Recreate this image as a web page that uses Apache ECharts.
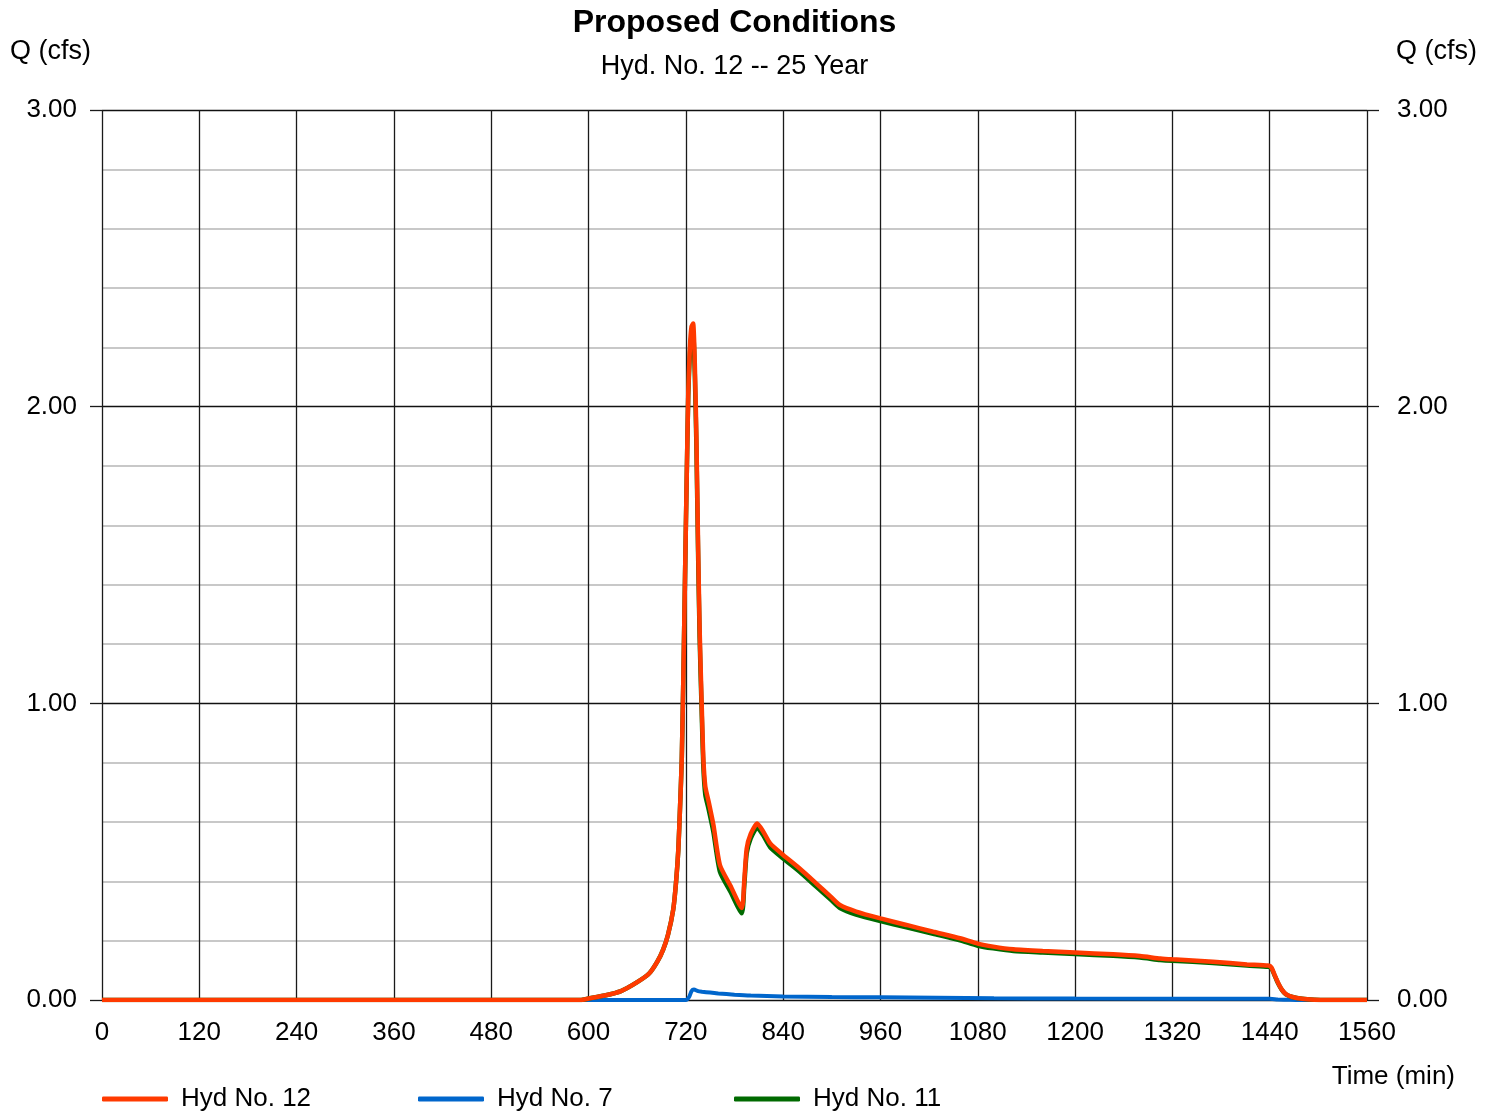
<!DOCTYPE html>
<html>
<head>
<meta charset="utf-8">
<script src="https://cdn.jsdelivr.net/npm/echarts@6/dist/echarts.min.js"></script>
<style>
html,body{margin:0;padding:0;background:#fff;}
#chart{width:1496px;height:1112px;}
</style>
</head>
<body>
<div id="chart"></div>
<script>
// Time (min) / flow (cfs) samples
const xTicks = [0,120,240,360,480,600,720,840,960,1080,1200,1320,1440,1560];
const yTicks = [0,1,2,3];

const hyd12 = [
  [0,0],[590,0],[600,0.005],[620,0.015],[640,0.03],[660,0.06],[675,0.09],[685,0.13],[692,0.17],
  [698,0.22],[704.5,0.306],[708,0.40],[710.7,0.506],[713,0.66],[715,0.815],[717,1.10],[719,1.43],
  [721,1.75],[723,2.05],[725,2.20],[727,2.27],[729,2.28],[731,2.15],[733,1.90],[735,1.55],[737,1.25],
  [739.5,1.0],[741.5,0.82],[744,0.72],[748,0.67],[754,0.59],[762,0.455],[775,0.385],[789,0.31],
  [792,0.40],[795,0.51],[800,0.56],[808,0.595],[815,0.57],[824,0.528],[840,0.489],[860,0.444],
  [880,0.395],[900,0.345],[910,0.32],[930,0.298],[960,0.275],[992,0.253],[1025,0.23],[1058,0.208],
  [1080,0.19],[1099,0.18],[1124,0.171],[1160,0.165],[1200,0.16],[1247,0.154],[1280,0.148],
  [1305,0.14],[1320,0.137],[1370,0.129],[1412,0.12],[1438,0.116],[1442,0.11],[1446,0.085],
  [1450,0.06],[1455,0.035],[1460,0.02],[1468,0.01],[1480,0.004],[1495,0.001],[1510,0],[1560,0]
];

const hyd7 = [
  [0,0],[720,0],[724,0.01],[727,0.03],[730,0.035],[735,0.03],[740,0.028],[750,0.025],[760,0.022],
  [780,0.018],[800,0.015],[840,0.012],[900,0.01],[960,0.009],[1100,0.006],[1200,0.005],[1440,0.004],
  [1450,0.002],[1465,0.0005],[1480,0],[1560,0]
];

const hyd11 = [
  [0,0],[590,0],[600,0.005],[620,0.015],[640,0.03],[660,0.06],[675,0.09],[685,0.13],[692,0.17],
  [698,0.22],[704.5,0.306],[708,0.40],[710.7,0.506],[713,0.66],[715,0.815],[717,1.10],[719,1.43],
  [721,1.75],[723,2.04],[725,2.18],[727,2.24],[729,2.245],[731,2.115],[733,1.868],[735,1.52],[737,1.221],
  [739.5,0.972],[741.5,0.792],[744,0.692],[748,0.644],[754,0.566],[762,0.433],[775,0.365],[789,0.292],
  [792,0.383],[795,0.494],[800,0.545],[808,0.581],[815,0.557],[824,0.515],[840,0.477],[860,0.433],
  [880,0.384],[900,0.335],[910,0.31],[930,0.288],[960,0.266],[992,0.245],[1025,0.223],[1058,0.201],
  [1080,0.183],[1099,0.174],[1124,0.165],[1160,0.16],[1200,0.155],[1247,0.149],[1280,0.143],
  [1305,0.135],[1320,0.132],[1370,0.125],[1412,0.116],[1438,0.112],[1442,0.107],[1446,0.083],
  [1450,0.058],[1455,0.034],[1460,0.019],[1468,0.01],[1480,0.004],[1495,0.001],[1510,0],[1560,0]
];

const seriesNames = ['Hyd No. 12','Hyd No. 7','Hyd No. 11'];
const seriesColors = ['#ff3a00','#0066cc','#006a00'];

const FONT = '"Liberation Sans", Arial, sans-serif';
const chart = echarts.init(document.getElementById('chart'));

const gridLeft = 102, gridRight = 1367, gridTop = 110, gridBottom = 1000;

chart.setOption({
  animation: false,
  backgroundColor: '#ffffff',
  textStyle: { fontFamily: FONT },
  grid: { left: gridLeft, right: 1496 - gridRight, top: gridTop, bottom: 1112 - gridBottom },
  legend: [0,1,2].map(i => ({
    data: [seriesNames[i]],
    left: [97, 413, 729][i],
    top: 1081,
    icon: 'roundRect',
    itemWidth: 66,
    itemHeight: 5,
    itemGap: 0,
    textStyle: { fontFamily: FONT, fontSize: 26, color: '#000', padding: [0,0,0,8] }
  })),
  xAxis: {
    type: 'value',
    min: 0, max: 1560, interval: 120,
    axisLine: { show: false },
    axisTick: { show: false },
    axisLabel: { fontFamily: FONT, fontSize: 26, color: '#000', margin: 20,
      formatter: v => xTicks.includes(v) ? String(v) : '' },
    splitLine: { show: true, lineStyle: { color: '#1a1a1a', width: 1.3 } }
  },
  yAxis: [
    {
      type: 'value', min: 0, max: 3, interval: 1, position: 'left',
      axisLine: { show: false },
      axisTick: { show: true, length: 12, lineStyle: { color: '#1a1a1a', width: 1.3 } },
      axisLabel: { fontFamily: FONT, fontSize: 26, color: '#000', margin: 25, padding: [4,0,0,0],
        formatter: v => yTicks.includes(v) ? v.toFixed(2) : '' },
      splitLine: { show: true, lineStyle: { color: '#111', width: 1.3 } },
      minorTick: { show: false, splitNumber: 5 },
      minorSplitLine: { show: true, lineStyle: { color: '#c8c8c8', width: 2 } }
    },
    {
      type: 'value', min: 0, max: 3, interval: 1, position: 'right',
      axisLine: { show: false },
      axisTick: { show: true, length: 12, lineStyle: { color: '#1a1a1a', width: 1.3 } },
      axisLabel: { fontFamily: FONT, fontSize: 26, color: '#000', margin: 30, padding: [4,0,0,0],
        formatter: v => yTicks.includes(v) ? v.toFixed(2) : '' },
      splitLine: { show: false }
    }
  ],
  series: [
    { name: seriesNames[1], type: 'line', data: hyd7, showSymbol: false, smooth: 0.2,
      lineStyle: { color: seriesColors[1], width: 4 }, itemStyle: { color: seriesColors[1] }, z: 2 },
    { name: seriesNames[2], type: 'line', data: hyd11, showSymbol: false, smooth: 0.2,
      lineStyle: { color: seriesColors[2], width: 4.5 }, itemStyle: { color: seriesColors[2] }, z: 3 },
    { name: seriesNames[0], type: 'line', data: hyd12, showSymbol: false, smooth: 0.2,
      lineStyle: { color: seriesColors[0], width: 4.5 }, itemStyle: { color: seriesColors[0] }, z: 4 }
  ],
  graphic: [
    { type: 'text', x: 734.5, y: 23, style: { text: 'Proposed Conditions', fontFamily: FONT, fontSize: 32, fontWeight: 'bold', fill: '#000', textAlign: 'center', textVerticalAlign: 'middle' } },
    { type: 'text', x: 734.5, y: 67, style: { text: 'Hyd. No. 12 -- 25 Year', fontFamily: FONT, fontSize: 27, fill: '#000', textAlign: 'center', textVerticalAlign: 'middle' } },
    { type: 'text', x: 10, y: 52, style: { text: 'Q (cfs)', fontFamily: FONT, fontSize: 27, fill: '#000', textAlign: 'left', textVerticalAlign: 'middle' } },
    { type: 'text', x: 1477, y: 52, style: { text: 'Q (cfs)', fontFamily: FONT, fontSize: 27, fill: '#000', textAlign: 'right', textVerticalAlign: 'middle' } },
    { type: 'text', x: 1455, y: 1077, style: { text: 'Time (min)', fontFamily: FONT, fontSize: 26, fill: '#000', textAlign: 'right', textVerticalAlign: 'middle' } }
  ]
});
</script>
</body>
</html>
